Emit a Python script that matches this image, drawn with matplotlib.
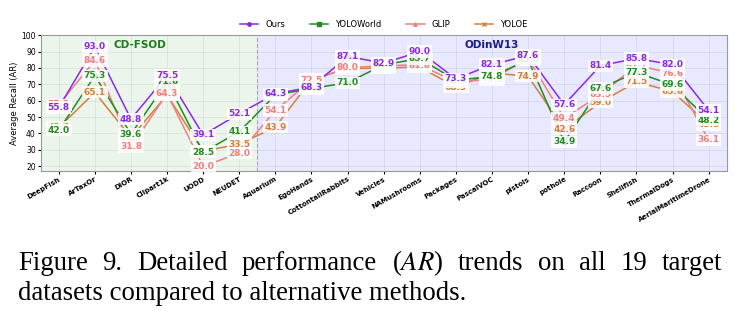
import numpy as np
import matplotlib.pyplot as plt

# dataset names and recall values
datasets = ['DeepFish', 'ArTaxOr', 'DIOR', 'Clipart1k', 'UODD', 'NEUDET',
            'Aquarium', 'EgoHands', 'CottontailRabbits', 'Vehicles', 'NAMushrooms',
            'Packages', 'PascalVOC', 'pistols', 'pothole', 'Raccoon', 'Shellfish',
            'ThermalDogs', 'AerialMaritimeDrone']

ours = [55.8, 93.0, 48.8, 75.5, 39.1, 52.1, 64.3, 68.3, 87.1, 82.9, 90.0,
        73.3, 82.1, 87.6, 57.6, 81.4, 85.8, 82.0, 54.1]
yoloworld = [42.0, 75.3, 39.6, 71.6, 28.5, 41.1, 63.5, 67.5, 71.0, 82.0, 85.7,
             72.5, 74.8, 85.0, 34.9, 67.6, 77.3, 69.6, 48.2]
glip = [57.5, 84.6, 31.8, 64.3, 20.0, 28.0, 54.1, 72.5, 80.0, 81.5, 81.8,
        71.5, 73.0, 86.0, 49.4, 63.5, 81.7, 76.6, 36.1]
yoloe = [43.6, 65.1, 37.5, 63.5, 29.2, 33.5, 43.9, 72.9, 79.6, 80.0, 80.6,
         68.3, 77.0, 74.9, 42.6, 59.0, 71.5, 65.6, 45.5]

n_fsod = 6  # first six datasets belong to CD-FSOD

caption_1 = 'Figure 9.  Detailed performance ($AR$) trends on all 19 target'
caption_2 = 'datasets compared to alternative methods.'

series = [
    ('Ours', ours, '#8A2BE2', 'o', 5),
    ('YOLOWorld', yoloworld, '#228B22', 's', 4),
    ('GLIP', glip, '#F08080', '^', 3),
    ('YOLOE', yoloe, '#D2803A', 'x', 2),
]

plt.rcParams['mathtext.fontset'] = 'stix'

fig = plt.figure(figsize=(7.4, 3.26), dpi=100)
ax = fig.add_axes([0.055, 0.475, 0.927, 0.417])

x = np.arange(len(datasets))

# background regions
ax.axvspan(-0.5, n_fsod - 0.5, color='green', alpha=0.08, lw=0)
ax.axvspan(n_fsod - 0.5, len(datasets) - 0.5, color='blue', alpha=0.09, lw=0)
ax.axvline(n_fsod - 0.5, color='gray', ls='--', lw=0.8, alpha=0.6)

# draw lines, weakest first so Ours ends up on top
for name, vals, color, marker, z in reversed(series):
    ax.plot(x, vals, color=color, marker=marker, markersize=2.5, lw=1.1,
            label=name, zorder=z)
    for xi, v in zip(x, vals):
        ax.text(xi, v, f'{v:.1f}', color=color, fontsize=6.5, fontweight='bold',
                ha='center', va='center', zorder=z + 10,
                bbox=dict(facecolor='white', edgecolor='none', alpha=0.85, pad=1.2))

ax.text(2.25, 94, 'CD-FSOD', color='#1E7B1E', fontsize=7.5,
        fontweight='bold', ha='center', va='center')
ax.text((n_fsod - 0.5 + len(datasets) - 0.5) / 2, 94, 'ODinW13', color='#1A1A8C',
        fontsize=7.5, fontweight='bold', ha='center', va='center')

ax.set_xlim(-0.5, len(datasets) - 0.5)
ax.set_ylim(17, 100)
ax.set_yticks(np.arange(20, 101, 10))
ax.set_xticks(x)
ax.set_xticklabels(datasets, rotation=30, ha='right', rotation_mode='anchor',
                   fontsize=5.0, fontweight='bold')
ax.tick_params(axis='y', labelsize=5.5, length=2, pad=1.5)
ax.tick_params(axis='x', length=2, pad=1.5)
ax.set_ylabel('Average Recall (AR)', fontsize=6, labelpad=2)
ax.grid(True, color='gray', alpha=0.15, lw=0.6)
ax.set_axisbelow(True)
for sp in ax.spines.values():
    sp.set_color('#999999')
    sp.set_linewidth(0.8)

handles, labels = ax.get_legend_handles_labels()
ax.legend(handles[::-1], labels[::-1], loc='lower center', bbox_to_anchor=(0.5, 1.0),
          ncol=4, frameon=False, fontsize=6, columnspacing=3.0, handlelength=2.2,
          borderaxespad=0.3)

# caption below the chart, first line justified like the paper text
cap_font = dict(family='Liberation Serif', fontsize=19.3, va='center', ha='left')
left_px, right_px = 18, 722
W = fig.bbox.width
words = caption_1.split()
word_texts = [fig.text(0, 0.193, w, **cap_font) for w in words]
fig.canvas.draw()
renderer = fig.canvas.get_renderer()
widths = [t.get_window_extent(renderer).width for t in word_texts]
gap = (right_px - left_px - sum(widths)) / (len(words) - 1)
pos = left_px
for t, w in zip(word_texts, widths):
    t.set_x(pos / W)
    pos += w + gap
fig.text(left_px / W, 0.101, caption_2, **cap_font)

fig.savefig('out.png', dpi=100)
